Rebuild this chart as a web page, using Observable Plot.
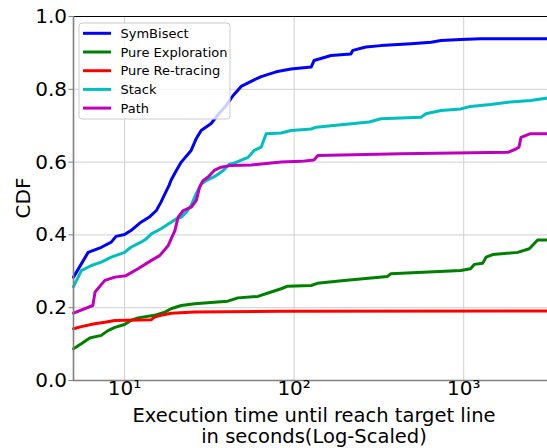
<!DOCTYPE html>
<html>
<head>
<meta charset="utf-8">
<script src="https://cdn.jsdelivr.net/npm/d3@7"></script>
<script src="https://cdn.jsdelivr.net/npm/@observablehq/plot@0.6"></script>
<style>
  html, body { margin: 0; padding: 0; background: #fff; }
  #chart { width: 547px; height: 448px; overflow: hidden; }
  svg { font-family: "DejaVu Sans", sans-serif; }
</style>
</head>
<body>
<div id="chart"></div>
<script>
// ---- data (x = seconds, y = CDF) ----
const seriesNames = ["SymBisect", "Pure Exploration", "Pure Re-tracing", "Stack", "Path"];
const seriesColors = ["#0000ff", "#008000", "#ff0000", "#00bfbf", "#bf00bf"];

const symbisect = [[5.0,0.284],[6.1,0.352],[7.3,0.366],[8.35,0.38],[8.9,0.396],[10,0.401],[10.9,0.412],[12.5,0.435],[14,0.449],[15.4,0.467],[16.4,0.49],[17.1,0.508],[18.3,0.536],[18.8,0.55],[20.2,0.577],[21.6,0.6],[24.7,0.632],[26.5,0.665],[28.3,0.687],[32.4,0.706],[36.1,0.734],[39.7,0.755],[43.7,0.783],[48.7,0.808],[55.8,0.822],[63.9,0.835],[78.3,0.848],[95.7,0.856],[126,0.861],[131,0.879],[165,0.893],[216,0.897],[222,0.907],[265,0.916],[325,0.92],[489,0.925],[641,0.929],[735,0.934],[960,0.937],[1257,0.939],[3120,0.939]];
const pureExploration = [[5.0,0.087],[5.56,0.101],[6.23,0.117],[7.29,0.124],[7.98,0.137],[8.77,0.146],[10,0.154],[10.9,0.165],[12,0.172],[15,0.179],[17.3,0.188],[18.8,0.197],[21.6,0.206],[25.9,0.211],[40.6,0.218],[46.6,0.227],[61.1,0.231],[73.2,0.243],[83.8,0.252],[91.6,0.259],[126,0.261],[137,0.267],[197,0.275],[355,0.286],[371,0.293],[960,0.302],[1096,0.307],[1155,0.319],[1294,0.322],[1355,0.339],[1484,0.346],[2081,0.352],[2437,0.362],[2729,0.386],[3120,0.386]];
const pureRetracing = [[5,0.142],[5.56,0.148],[6.66,0.156],[7.65,0.16],[8.77,0.165],[14.4,0.167],[15,0.174],[16.4,0.179],[18.8,0.185],[25.9,0.188],[83.8,0.19],[3120,0.191]];
const stack = [[5.0,0.258],[5.56,0.302],[6.37,0.316],[7.29,0.325],[8.35,0.339],[10,0.352],[10.9,0.366],[12.5,0.38],[13.4,0.389],[14.4,0.403],[16.4,0.417],[18.8,0.435],[20.2,0.444],[21.6,0.449],[23.1,0.462],[24.7,0.481],[26.5,0.514],[28.3,0.54],[30.3,0.549],[34.7,0.563],[38.2,0.577],[41.4,0.594],[44.3,0.597],[53.5,0.613],[58.1,0.632],[63.9,0.641],[68.4,0.678],[83.8,0.68],[95.7,0.687],[126,0.691],[135,0.696],[165,0.70],[277,0.71],[325,0.719],[560,0.723],[598,0.733],[735,0.742],[960,0.746],[1096,0.753],[1439,0.758],[1888,0.765],[2477,0.769],[3120,0.776]];
const path = [[5.0,0.185],[6.5,0.206],[6.7,0.243],[7.65,0.275],[8.77,0.284],[10.2,0.288],[12,0.307],[14.4,0.33],[16.1,0.343],[18.1,0.371],[19.8,0.412],[20.7,0.449],[22.2,0.467],[24.7,0.476],[26.5,0.495],[27.7,0.531],[29,0.549],[31.1,0.559],[33.8,0.577],[37.1,0.586],[42.5,0.591],[55.8,0.592],[83.8,0.6],[110,0.602],[131,0.606],[138,0.618],[427,0.623],[1824,0.627],[2031,0.636],[2117,0.641],[2177,0.668],[2477,0.678],[3120,0.678]];

const xTicks = [10, 100, 1000];
const xTickLabels = ["10¹", "10²", "10³"];
const yTicks = [0, 0.2, 0.4, 0.6, 0.8, 1.0];
const xLabelLines = ["Execution time until reach target line", "in seconds(Log-Scaled)"];
const yLabel = "CDF";

// ---- build table ----
const allSeries = [symbisect, pureExploration, pureRetracing, stack, path];
const rows = [];
allSeries.forEach((s, i) => s.forEach(([x, y]) => rows.push({series: seriesNames[i], x, y})));

const W = 547, H = 448;
const mL = 73, mT = 16, mB = 68, mR = 0;

const chart = Plot.plot({
  width: W,
  height: H,
  marginLeft: mL,
  marginTop: mT,
  marginBottom: mB,
  marginRight: mR,
  style: {fontFamily: "DejaVu Sans, sans-serif", background: "#fff", overflow: "hidden"},
  x: {type: "log", domain: [5, 3120]},
  y: {domain: [0, 1]},
  color: {domain: seriesNames, range: seriesColors},
  marks: [
    Plot.gridX(xTicks, {stroke: "#d0d0d0", strokeOpacity: 1, strokeWidth: 1}),
    Plot.gridY(yTicks.slice(1, -1), {stroke: "#d0d0d0", strokeOpacity: 1, strokeWidth: 1}),
    Plot.line(rows, {x: "x", y: "y", z: "series", stroke: "series", strokeWidth: 3, curve: "linear"}),
    Plot.ruleY([1], {stroke: "#000", strokeWidth: 1.2}),
    Plot.ruleX([5], {stroke: "#808080", strokeWidth: 1.6}),
    Plot.ruleY([0], {stroke: "#808080", strokeWidth: 1.6}),
    Plot.axisY({ticks: yTicks, tickFormat: d3.format(".1f"), fontSize: 20, tickSize: 4.5, tickPadding: 2, stroke: "#808080", label: null, color: "#000"}),
    Plot.axisX({ticks: xTicks, tickFormat: (d) => xTickLabels[xTicks.indexOf(d)], fontSize: 20, tickSize: 0, tickPadding: 0, label: null, color: "#000"})
  ]
});

document.getElementById("chart").appendChild(chart);

const svg = d3.select(chart);

// axis labels (two lines)
[421.5, 443].forEach((yy, i) => {
  svg.append("text")
    .attr("x", 314).attr("y", yy)
    .attr("text-anchor", "middle")
    .attr("font-size", 19.5)
    .attr("fill", "#000")
    .text(xLabelLines[i]);
});

svg.append("text")
  .attr("transform", "translate(30,198) rotate(-90)")
  .attr("text-anchor", "middle")
  .attr("font-size", 20)
  .attr("fill", "#000")
  .text(yLabel);

// legend
const lg = svg.append("g").attr("text-anchor", "start");
lg.append("rect")
  .attr("x", 79).attr("y", 23).attr("width", 151).attr("height", 96).attr("rx", 3)
  .attr("fill", "#fff").attr("fill-opacity", 0.8).attr("stroke", "#cccccc").attr("stroke-width", 1);
seriesNames.forEach((name, i) => {
  const cy = 33.3 + i * 18.7;
  lg.append("line").attr("x1", 83).attr("x2", 111).attr("y1", cy).attr("y2", cy)
    .attr("stroke", seriesColors[i]).attr("stroke-width", 3);
  lg.append("text").attr("x", 120.5).attr("y", cy).attr("dy", "0.35em")
    .attr("text-anchor", "start")
    .attr("font-size", 13).attr("fill", "#000").text(name);
});
</script>
</body>
</html>
